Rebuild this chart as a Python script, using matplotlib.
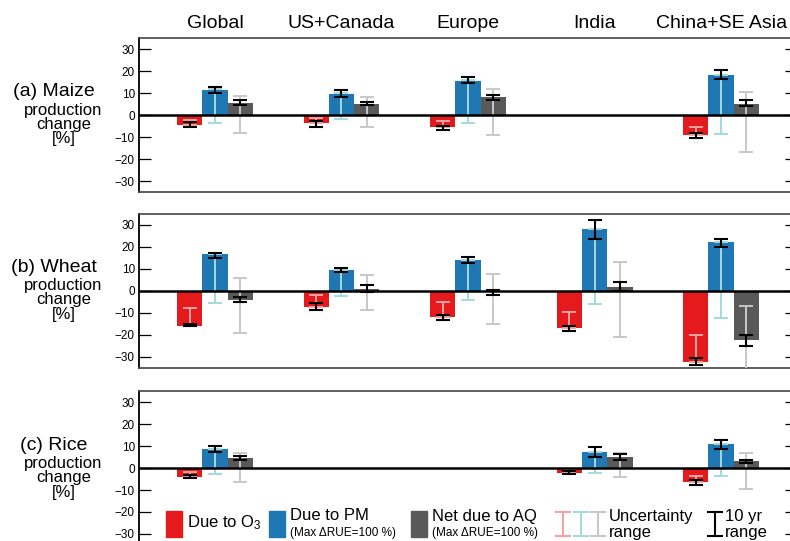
import matplotlib
matplotlib.use("Agg")
import matplotlib.pyplot as plt
import numpy as np
from matplotlib.patches import Rectangle
from matplotlib.lines import Line2D

plt.rcParams["font.family"] = ["Liberation Sans", "DejaVu Sans"]
plt.rcParams["mathtext.fontset"] = "custom"
plt.rcParams["mathtext.rm"] = "Liberation Sans"
plt.rcParams["mathtext.it"] = "Liberation Sans"

nan = np.nan
NA = [nan, nan]

regions = ["Global", "US+Canada", "Europe", "India", "China+SE Asia"]
crop_labels = ["(a) Maize", "(b) Wheat", "(c) Rice"]
yticks = [-30, -20, -10, 0, 10, 20, 30]

# --- maize ---
maize_o3 = [-4.7, -3.8, -5.6, nan, -9.2]
maize_o3_yr = [[-5.3, -3.0], [-5.3, -2.7], [-6.7, -4.8], NA, [-10.6, -8.3]]
maize_o3_unc = [[-4.7, -2.1], [-3.8, -1.5], [-5.6, -2.9], NA, [-9.2, -5.6]]
maize_pm = [11.5, 9.7, 15.6, nan, 18.3]
maize_pm_yr = [[10.2, 12.6], [8.3, 11.5], [14.5, 17.3], NA, [16.2, 20.5]]
maize_pm_unc = [[-3.8, 11.8], [-1.8, 9.8], [-3.6, 16.0], NA, [-8.8, 18.2]]
maize_net = [5.6, 5.2, 8.3, nan, 5.2]
maize_net_yr = [[4.5, 6.8], [4.7, 5.9], [7.0, 9.2], NA, [3.9, 7.0]]
maize_net_unc = [[-8.2, 8.5], [-5.6, 8.0], [-8.9, 12.0], NA, [-16.7, 10.3]]

# --- wheat ---
wheat_o3 = [-15.7, -7.5, -12.0, -17.0, -32.3]
wheat_o3_yr = [[-16.1, -14.8], [-8.8, -5.6], [-13.1, -10.7], [-18.0, -16.1], [-33.6, -30.4]]
wheat_o3_unc = [[-15.7, -7.8], [-7.5, -2.0], [-12.0, -5.2], [-17.0, -9.4], [-32.3, -20.2]]
wheat_pm = [16.6, 9.7, 14.3, 28.0, 22.1]
wheat_pm_yr = [[15.2, 17.4], [8.8, 10.4], [12.9, 15.4], [23.7, 32.4], [20.1, 23.6]]
wheat_pm_unc = [[-5.5, 16.6], [-2.1, 9.6], [-4.0, 14.3], [-6.1, 28.0], [-12.5, 22.1]]
wheat_net = [-4.3, 1.1, -0.5, 2.0, -22.5]
wheat_net_yr = [[-4.9, -2.7], [-0.5, 2.6], [-1.8, 0.6], [-0.2, 4.0], [-24.8, -20.2]]
wheat_net_unc = [[-19.3, 5.8], [-8.8, 7.2], [-14.8, 7.6], [-21.0, 13.4], [-36.0, -7.0]]

# --- rice ---
rice_o3 = [-4.1, nan, nan, -2.3, -6.4]
rice_o3_yr = [[-4.6, -3.0], NA, NA, [-2.9, -1.5], [-7.5, -5.3]]
rice_o3_unc = [[-4.1, -2.0], NA, NA, [-2.3, -1.0], [-6.4, -3.5]]
rice_pm = [8.5, nan, nan, 7.2, 10.8]
rice_pm_yr = [[7.5, 10.2], NA, NA, [4.9, 9.6], [8.7, 12.9]]
rice_pm_unc = [[-2.7, 8.5], NA, NA, [-2.1, 7.2], [-3.7, 10.8]]
rice_net = [4.4, nan, nan, 4.9, 3.0]
rice_net_yr = [[3.5, 5.5], NA, NA, [3.7, 6.4], [2.1, 3.8]]
rice_net_unc = [[-6.2, 6.7], NA, NA, [-4.0, 6.7], [-9.4, 6.7]]

RED, BLUE, DGRAY = "#e41a1c", "#1f77b4", "#595959"
PINK, CYAN, LGRAY = "#f4a3a3", "#a3dada", "#c8c8c8"

panels = [
    [(maize_o3, maize_o3_yr, maize_o3_unc), (maize_pm, maize_pm_yr, maize_pm_unc),
     (maize_net, maize_net_yr, maize_net_unc)],
    [(wheat_o3, wheat_o3_yr, wheat_o3_unc), (wheat_pm, wheat_pm_yr, wheat_pm_unc),
     (wheat_net, wheat_net_yr, wheat_net_unc)],
    [(rice_o3, rice_o3_yr, rice_o3_unc), (rice_pm, rice_pm_yr, rice_pm_unc),
     (rice_net, rice_net_yr, rice_net_unc)],
]
series_colors = [(RED, PINK), (BLUE, CYAN), (DGRAY, LGRAY)]
offsets = [-0.2, 0.0, 0.2]
width = 0.2

W, H = 790, 541
fig = plt.figure(figsize=(W / 100, H / 100), dpi=100)

tops = [38, 214, 391]
ax_h = 154
x = np.arange(len(regions))


def range_bar(ax, xs, pairs, color, lw, z):
    pairs = np.asarray(pairs, dtype=float)
    mid = pairs.mean(axis=1)
    half = (pairs[:, 1] - pairs[:, 0]) / 2
    ax.errorbar(xs, mid, yerr=half, fmt="none", ecolor=color, elinewidth=lw,
                capsize=5, capthick=lw, zorder=z)


for p, top in enumerate(tops):
    ax = fig.add_axes([139 / W, 1 - (top + ax_h) / H, 658 / W, ax_h / H])
    ax.set_xlim(-0.6, 4.6)
    ax.set_ylim(-35, 35)
    for s, (vals, yr, unc) in enumerate(panels[p]):
        col, lcol = series_colors[s]
        xs = x + offsets[s]
        ax.bar(xs, vals, width=width, color=col, zorder=2)
        range_bar(ax, xs, unc, lcol, 1.4, 3)
        range_bar(ax, xs, yr, "black", 1.5, 4)
    ax.axhline(0, color="black", lw=1.8, zorder=5)

    ax.set_xticks([])
    ax.set_yticks(yticks)
    ax.tick_params(axis="y", direction="in", length=8.5, width=0.9, left=True, right=True,
                   labelleft=True, labelsize=8.5, pad=3)
    for side in ["top", "bottom"]:
        ax.spines[side].set_color("#444444")
        ax.spines[side].set_linewidth(1.2)
    ax.spines["left"].set_linewidth(1.3)

    ax.text(-0.13, 0.5 + 23 / ax_h, crop_labels[p], transform=ax.transAxes,
            ha="center", va="center", fontsize=14)
    for dy, t in [(5, "production"), (-9, "change"), (-24, "[%]")]:
        ax.text(-0.115, 0.5 + dy / ax_h, t, transform=ax.transAxes,
                ha="center", va="center", fontsize=12)

    if p == 0:
        for i, r in enumerate(regions):
            ax.text(i, 1 + 15 / ax_h, r, transform=ax.get_xaxis_transform(),
                    ha="center", va="center", fontsize=14)

# legend drawn in figure pixel space
def fx(px):
    return px / W


def fy(py):
    return 1 - py / H


for x0, col in [(166, RED), (269, BLUE), (411, DGRAY)]:
    fig.add_artist(Rectangle((fx(x0), fy(537)), 16 / W, 26 / H, color=col,
                             transform=fig.transFigure))
fig.text(fx(187), fy(523), "Due to O$_3$", fontsize=12, va="center")
fig.text(fx(290), fy(516), "Due to PM", fontsize=12, va="center")
fig.text(fx(290), fy(533), "(Max \u0394RUE=100 %)", fontsize=8.5, va="center")
fig.text(fx(432), fy(516), "Net due to AQ", fontsize=12, va="center")
fig.text(fx(432), fy(533), "(Max \u0394RUE=100 %)", fontsize=8.5, va="center")


def legend_i(cx, color):
    kw = dict(color=color, lw=1.5, transform=fig.transFigure)
    fig.add_artist(Line2D([fx(cx), fx(cx)], [fy(512), fy(536)], **kw))
    fig.add_artist(Line2D([fx(cx - 7), fx(cx + 7)], [fy(512), fy(512)], **kw))
    fig.add_artist(Line2D([fx(cx - 7), fx(cx + 7)], [fy(536), fy(536)], **kw))


legend_i(563, PINK)
legend_i(581, CYAN)
legend_i(598, LGRAY)
legend_i(715, "black")
fig.text(fx(609), fy(517), "Uncertainty", fontsize=12, va="center")
fig.text(fx(609), fy(533), "range", fontsize=12, va="center")
fig.text(fx(725), fy(517), "10 yr", fontsize=12, va="center")
fig.text(fx(725), fy(533), "range", fontsize=12, va="center")

fig.savefig("out.png", dpi=100)
